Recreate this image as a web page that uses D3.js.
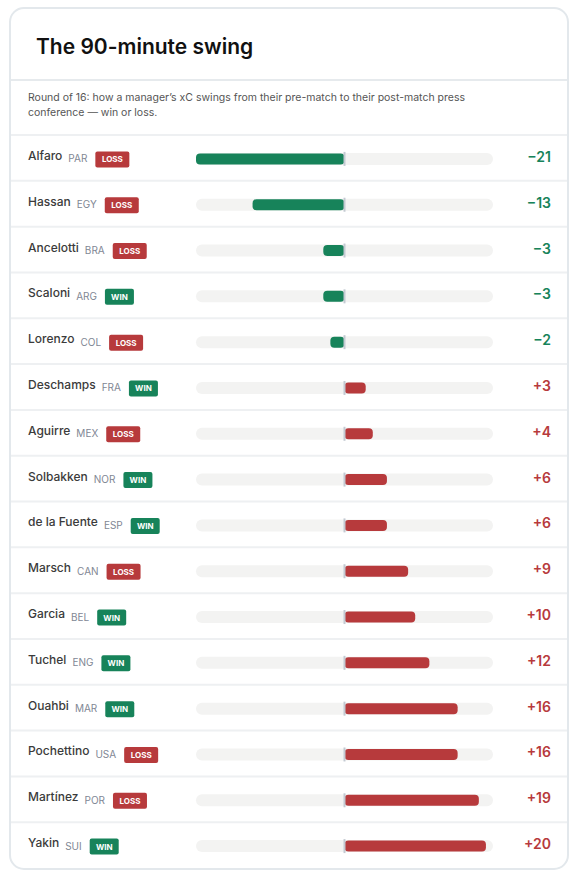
<!DOCTYPE html>
<html>
<head>
<meta charset="utf-8">
<script src="https://cdn.jsdelivr.net/npm/d3@7"></script>
<style>
  body { margin: 0; background: #fff; }
  svg { display: block; font-family: Inter, "Noto Sans", sans-serif; }
</style>
</head>
<body>
<div id="chart"></div>
<script>
const managers = ['Alfaro', 'Hassan', 'Ancelotti', 'Scaloni', 'Lorenzo', 'Deschamps', 'Aguirre', 'Solbakken',
  'de la Fuente', 'Marsch', 'Garcia', 'Tuchel', 'Ouahbi', 'Pochettino', 'Martínez', 'Yakin']
const countries = ['PAR', 'EGY', 'BRA', 'ARG', 'COL', 'FRA', 'MEX', 'NOR', 'ESP', 'CAN', 'BEL', 'ENG', 'MAR', 'USA', 'POR', 'SUI']
const results = ['LOSS', 'LOSS', 'LOSS', 'WIN', 'LOSS', 'WIN', 'LOSS', 'WIN', 'WIN', 'LOSS', 'WIN', 'WIN', 'WIN', 'LOSS', 'LOSS', 'WIN']
const swings = [-21, -13, -3, -3, -2, 3, 4, 6, 6, 9, 10, 12, 16, 16, 19, 20]

const width = 575
const height = 871
const green = '#17835a'
const red = '#b73a3c'

const svg = d3.select('#chart').append('svg')
  .attr('width', width)
  .attr('height', height)

// card
svg.append('rect')
  .attr('x', 10).attr('y', 8)
  .attr('width', 558).attr('height', 861)
  .attr('rx', 14)
  .attr('fill', '#fff')
  .attr('stroke', '#e3e8ec')
  .attr('stroke-width', 2)

svg.append('text')
  .attr('x', 36).attr('y', 54)
  .attr('font-size', 21)
  .attr('font-weight', 600)
  .attr('fill', '#111')
  .text('The 90-minute swing')

svg.append('line')
  .attr('x1', 11).attr('x2', 567).attr('y1', 80).attr('y2', 80)
  .attr('stroke', '#e6eaed').attr('stroke-width', 2)

const sub = svg.append('text')
  .attr('font-size', 10.5)
  .attr('fill', '#555')
sub.append('tspan').attr('x', 28).attr('y', 101)
  .text('Round of 16: how a manager\u2019s xC swings from their pre-match to their post-match press')
sub.append('tspan').attr('x', 28).attr('y', 116)
  .text('conference \u2014 win or loss.')

const rows = d3.scaleBand()
  .domain(managers)
  .range([135, 868])

const x = d3.scaleLinear()
  .domain([-21, 21])
  .range([196, 493])

const row = svg.selectAll('g.row')
  .data(managers)
  .join('g')
  .attr('class', 'row')
  .attr('transform', d => `translate(0,${rows(d)})`)

const bw = rows.bandwidth()

row.append('line')
  .attr('x1', 11).attr('x2', 567)
  .attr('y1', 0).attr('y2', 0)
  .attr('stroke', '#eef0f2')
  .attr('stroke-width', 2)

// name, code, badge
row.each(function (d, i) {
  const g = d3.select(this)
  const name = g.append('text')
    .attr('x', 28).attr('y', bw / 2 + 2)
    .attr('font-size', 12)
    .attr('font-weight', 500)
    .attr('fill', '#3b3b3b')
    .text(d)
  const nameEnd = 28 + name.node().getComputedTextLength()
  const code = g.append('text')
    .attr('x', nameEnd + 6).attr('y', bw / 2 + 4.5)
    .attr('font-size', 10)
    .attr('fill', '#7f8794')
    .text(countries[i])
  const codeEnd = nameEnd + 6 + code.node().getComputedTextLength()
  const win = results[i] === 'WIN'
  const bwid = win ? 29 : 34
  g.append('rect')
    .attr('x', codeEnd + 8).attr('y', bw / 2 - 6.5)
    .attr('width', bwid).attr('height', 16)
    .attr('rx', 2)
    .attr('fill', win ? green : red)
  g.append('text')
    .attr('x', codeEnd + 8 + bwid / 2).attr('y', bw / 2 + 4.5)
    .attr('text-anchor', 'middle')
    .attr('font-size', 8)
    .attr('font-weight', 700)
    .attr('fill', '#fff')
    .text(results[i])
})

// track
row.append('rect')
  .attr('x', x(-21)).attr('y', bw / 2 - 5)
  .attr('width', x(21) - x(-21)).attr('height', 12)
  .attr('rx', 6)
  .attr('fill', '#f3f3f2')

row.append('rect')
  .attr('x', (d, i) => Math.min(x(0), x(swings[i])))
  .attr('y', bw / 2 - 4.5)
  .attr('width', (d, i) => Math.abs(x(swings[i]) - x(0)))
  .attr('height', 11)
  .attr('rx', 4)
  .attr('fill', (d, i) => swings[i] < 0 ? green : red)

row.append('rect')
  .attr('x', x(0) - 1).attr('y', bw / 2 - 6)
  .attr('width', 2).attr('height', 14)
  .attr('fill', '#c3cad2')

row.append('text')
  .attr('x', 551).attr('y', bw / 2 + 4)
  .attr('text-anchor', 'end')
  .attr('font-size', 14)
  .attr('font-weight', 600)
  .attr('fill', (d, i) => swings[i] < 0 ? green : red)
  .text((d, i) => (swings[i] < 0 ? '\u2212' : '+') + Math.abs(swings[i]))
</script>
</body>
</html>
